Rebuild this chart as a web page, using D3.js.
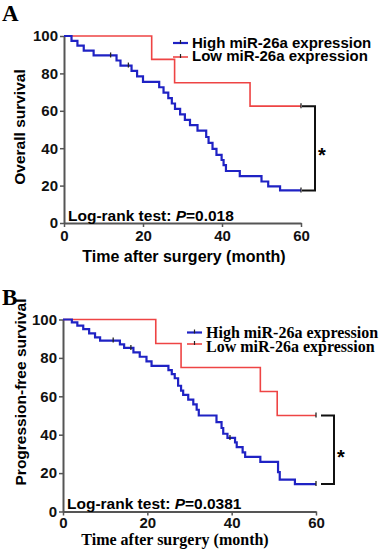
<!DOCTYPE html>
<html>
<head>
<meta charset="utf-8">
<script src="https://cdn.jsdelivr.net/npm/d3@7"></script>
<style>
  body { margin: 0; background: #fff; }
  svg { display: block; }
  .sans { font-family: "Liberation Sans", Arial, sans-serif; font-weight: bold; }
  .serif { font-family: "Liberation Serif", "Times New Roman", serif; font-weight: bold; }
</style>
</head>
<body>
<script>
// values
var timeTicks = [0, 20, 40, 60];
var survTicks = [0, 20, 40, 60, 80, 100];
var groups = ['High miR-26a expression', 'Low miR-26a expression'];

// panel A: overall survival, [month, %] after each drop
var osHigh = [[0,100],[1.9,97.4],[3.4,94.8],[5,92.2],[7.5,89.6],[13.3,86.9],[14.3,84.2],[17.1,81.3],[18.5,78.4],[20,75.5],
  [24.1,72.6],[25.2,69.7],[26.4,66.8],[27.3,63.9],[28.1,61],[29.4,58.1],[30.6,55.2],[31.9,52.3],[33.8,49.4],[36,46],
  [36.6,42.8],[37.6,39.6],[38.6,36.4],[39.9,33.7],[40.4,31],[41,27.8],[44.5,25.1],[50,22.2],[51.7,19.6],[54.7,17.4],[60,17.4]];
var osLow = [[0,100],[22.2,87.5],[28,75],[47.1,62.5],[60,62.5]];
var osHighCensor = [11.8, 16.3, 60];
var osLowCensor = [60];

// panel B: progression-free survival
var pfsHigh = [[0,100],[2.1,98.5],[3.4,96.8],[4.8,95],[6.2,92.8],[7.6,90.7],[8.8,89],[13.5,87],[14.5,85.2],[16.7,82.9],
  [18.2,80.6],[19.8,78.2],[21,75.8],[25,73.6],[25.8,71.5],[26.5,69.4],[27.3,65.5],[28,63],[28.5,60.7],[29.7,58.3],
  [30.9,55.8],[31.7,53],[32.2,50],[36.4,46.5],[37.6,43.5],[38,40.5],[39,38.3],[40.8,36],[41.2,33.5],[42.6,30.8],
  [43.2,28.5],[46.8,25.8],[51,20.5],[51.4,16.6],[55,14.3],[60,14.3]];
var pfsLow = [[0,100],[22,87.5],[28,75],[46.8,62.5],[50.8,50],[60,50]];
var pfsHighCensor = [11.9, 16.1, 39.6, 60];
var pfsLowCensor = [60];

var W = 384, H = 550;
var blue = '#1f22c4', red = '#ee4444';

var svg = d3.select('body').append('svg').attr('width', W).attr('height', H);

function levelAt(series, t) {
  var v = series[0][1];
  series.forEach(function(p) { if (p[0] <= t) v = p[1]; });
  return v;
}

function drawPanel(p) {
  var g = svg.append('g');
  var x = d3.scaleLinear().domain([0, 60]).range([p.x0, p.x1]);
  var y = d3.scaleLinear().domain([0, 100]).range([p.y0, p.y1]);

  // axes
  var ya = g.append('g').attr('transform', 'translate(' + p.x0 + ',0)')
    .call(d3.axisLeft(y).tickValues(survTicks).tickSize(4).tickSizeOuter(0).tickPadding(2));
  var xa = g.append('g').attr('transform', 'translate(0,' + p.y0 + ')')
    .call(d3.axisBottom(x).tickValues(timeTicks).tickSize(4).tickSizeOuter(0).tickPadding(p.xPad));
  [ya, xa].forEach(function(a) {
    a.select('.domain').attr('stroke', '#555').attr('stroke-width', 2);
    a.selectAll('.tick line').attr('stroke', '#555').attr('stroke-width', 1.5);
    a.selectAll('.tick text').attr('class', 'sans').attr('fill', '#111').style('font-size', '15px');
  });

  var line = d3.line().x(function(d) { return x(d[0]); }).y(function(d) { return y(d[1]); })
    .curve(d3.curveStepAfter);

  // low first, high on top
  [[p.low, p.lowCensor, red, 1.6], [p.high, p.highCensor, blue, 2.2]].forEach(function(s) {
    g.append('path').datum(s[0]).attr('d', line).attr('fill', 'none')
      .attr('stroke', s[2]).attr('stroke-width', s[3]);
    g.selectAll(null).data(s[1]).enter().append('line')
      .attr('x1', function(t) { return x(t); }).attr('x2', function(t) { return x(t); })
      .attr('y1', function(t) { return y(levelAt(s[0], t)) - 3; })
      .attr('y2', function(t) { return y(levelAt(s[0], t)) + 2; })
      .attr('stroke', '#222').attr('stroke-width', 1.3);
  });

  // significance bracket
  var top = y(p.low[p.low.length - 1][1]), bot = y(p.high[p.high.length - 1][1]);
  var bx = x(60) + p.bgap + 13;
  g.append('path')
    .attr('d', 'M' + (x(60) + p.bgap) + ',' + top + 'H' + bx + 'V' + bot + 'H' + (x(60) + p.bgap))
    .attr('fill', 'none').attr('stroke', '#111').attr('stroke-width', 2);
  g.append('text').attr('class', 'sans').attr('x', bx + 3).attr('y', (top + bot) / 2 + 14)
    .style('font-size', '20px').text('*');

  // legend
  groups.forEach(function(name, i) {
    var ly = p.legY[i];
    g.append('line').attr('x1', p.legX).attr('x2', p.legX + 15).attr('y1', ly).attr('y2', ly)
      .attr('stroke', i === 0 ? blue : red).attr('stroke-width', i === 0 ? 2.2 : 1.6);
    g.append('line').attr('x1', p.legX + 7.5).attr('x2', p.legX + 7.5).attr('y1', ly - 3).attr('y2', ly + 1)
      .attr('stroke', '#222').attr('stroke-width', 1.2);
    g.append('text').attr('class', p.legFont).attr('x', p.legX + 19).attr('y', p.legBase[i])
      .style('font-size', p.legSize).text(name);
  });

  // log-rank
  var lr = g.append('text').attr('class', 'sans').attr('x', p.x0 + 4).attr('y', p.y0 - 2.5)
    .style('font-size', '15.5px');
  lr.append('tspan').text('Log-rank test: ');
  lr.append('tspan').style('font-style', 'italic').text('P');
  lr.append('tspan').text('=' + p.pval);

  // titles
  g.append('text').attr('class', 'sans').attr('text-anchor', 'middle')
    .attr('transform', 'translate(' + p.yTitleX + ',' + p.yTitleC + ') rotate(-90)')
    .style('font-size', '15.5px').text(p.yTitle);
  g.append('text').attr('class', p.xFont).attr('text-anchor', 'middle')
    .attr('x', p.xTitleC).attr('y', p.y0 + p.xTitleDy).style('font-size', '16px')
    .text('Time after surgery (month)');

  g.append('text').attr('class', 'serif').attr('x', 2).attr('y', p.y1 - 15)
    .style('font-size', '23px').text(p.label);
}

drawPanel({
  label: 'A', x0: 64, x1: 301, y0: 223, y1: 36,
  high: osHigh, low: osLow, highCensor: osHighCensor, lowCensor: osLowCensor,
  bgap: 1, legX: 173, legY: [43, 57], legBase: [47.5, 60.5], legFont: 'sans', legSize: '15px',
  pval: '0.018', yTitle: 'Overall survival', yTitleX: 25, yTitleC: 127,
  xFont: 'sans', xTitleC: 184, xTitleDy: 39, xPad: 3
});

drawPanel({
  label: 'B', x0: 63, x1: 316, y0: 511.5, y1: 319.5,
  high: pfsHigh, low: pfsLow, highCensor: pfsHighCensor, lowCensor: pfsLowCensor,
  bgap: 5, legX: 187, legY: [332.5, 344], legBase: [338, 352], legFont: 'serif', legSize: '16px',
  pval: '0.0381', yTitle: 'Progression-free survival', yTitleX: 26, yTitleC: 392,
  xFont: 'serif', xTitleC: 175, xTitleDy: 33.5, xPad: 1.5
});
</script>
</body>
</html>
